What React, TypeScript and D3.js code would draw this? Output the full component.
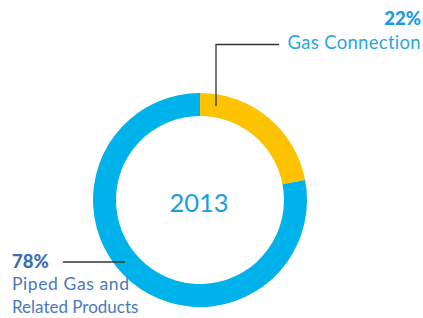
import React, { useEffect, useRef } from 'react';
import * as d3 from 'd3';

const segments = ['Gas Connection', 'Piped Gas and Related Products'];
const shares = [22, 78];
const segmentColors = ['#fdc300', '#00b2ea'];
const yearLabel = '2013';

const App = () => {
  const svgRef = useRef<SVGSVGElement | null>(null);

  useEffect(() => {
    drawChart();
  }, []);

  const drawChart = () => {
    const width = 423;
    const height = 318;
    const cx = 200;
    const cy = 200;
    const outer = 107;
    const inner = 84;

    const svg = d3.select(svgRef.current);
    svg.selectAll('*').remove();
    svg.attr('width', width).attr('height', height);

    const pie = d3
      .pie<number>()
      .sort(null)
      .value((d) => d);
    const arcs = pie(shares);
    const arc = d3.arc<d3.PieArcDatum<number>>().innerRadius(inner).outerRadius(outer);

    const g = svg.append('g').attr('transform', `translate(${cx},${cy})`);

    g.selectAll('path')
      .data(arcs)
      .enter()
      .append('path')
      .attr('d', arc)
      .attr('fill', (d, i) => segmentColors[i]);

    g.append('text')
      .attr('x', -1)
      .attr('y', 12)
      .attr('text-anchor', 'middle')
      .attr('font-family', 'Lato')
      .attr('font-size', 25.5)
      .attr('fill', '#1a9ee0')
      .text(yearLabel);

    const font = 'Lato';

    // top-right label
    svg
      .append('path')
      .attr('d', 'M216,106V44.5H279')
      .attr('fill', 'none')
      .attr('stroke', '#333')
      .attr('stroke-width', 1.3);

    svg
      .append('text')
      .attr('x', 421)
      .attr('y', 25)
      .attr('text-anchor', 'end')
      .attr('font-family', font)
      .attr('font-weight', 900)
      .attr('font-size', 18.5)
      .attr('fill', '#1a9be0')
      .text(`${shares[0]}%`);

    svg
      .append('text')
      .attr('x', 421)
      .attr('y', 49)
      .attr('text-anchor', 'end')
      .attr('font-family', font)
      .attr('font-size', 18.5)
      .attr('letter-spacing', 0.3)
      .attr('fill', '#29a8e0')
      .text(segments[0]);

    // bottom-left label
    svg
      .append('path')
      .attr('d', 'M63,262H125')
      .attr('fill', 'none')
      .attr('stroke', '#333')
      .attr('stroke-width', 1.3);

    svg
      .append('text')
      .attr('x', 12)
      .attr('y', 268)
      .attr('font-family', font)
      .attr('font-weight', 900)
      .attr('font-size', 18.5)
      .attr('fill', '#3a6fb5')
      .text(`${shares[1]}%`);

    const words = segments[1].split(' ');
    const lines = [words.slice(0, 3).join(' '), words.slice(3).join(' ')];
    svg
      .selectAll('text.lbl')
      .data(lines)
      .enter()
      .append('text')
      .attr('class', 'lbl')
      .attr('x', 12)
      .attr('y', (d, i) => 290 + i * 23)
      .attr('font-family', font)
      .attr('font-size', (d, i) => (i === 0 ? 17.5 : 17))
      .attr('letter-spacing', (d, i) => (i === 0 ? 0.6 : 0))
      .attr('fill', '#4a78bd')
      .text((d) => d);
  };

  return (
    <div style={{ position: 'absolute', left: 0, top: 0 }}>
      <svg ref={svgRef} style={{ display: 'block' }}></svg>
    </div>
  );
};

export default App;
